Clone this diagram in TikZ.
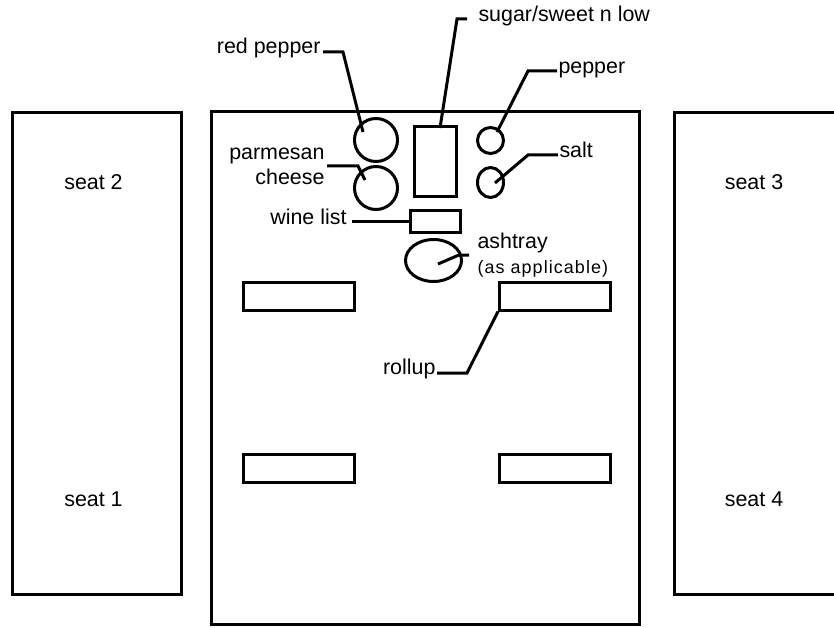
\documentclass[tikz,border=0pt]{standalone}
\usepackage{fontspec}
\setmainfont{Liberation Sans}
\newfontfamily\spacedsans[LetterSpace=6]{Liberation Sans}
\usetikzlibrary{shapes.geometric}

\begin{document}
\begin{tikzpicture}[
  x=1bp,
  y=-1bp,
  line width=3bp,
  every node/.style={font=\fontsize{21.5}{25}\selectfont},
  seatbox/.style={draw, inner sep=0pt, minimum width=169bp, minimum height=482bp},
  tablebox/.style={draw, inner sep=0pt, minimum width=428bp, minimum height=513bp},
  rollbox/.style={draw, inner sep=0pt, minimum width=111bp, minimum height=28bp},
  itembox/.style={draw, inner sep=0pt},
  itemround/.style={draw, circle, inner sep=0pt},
  itemoval/.style={draw, ellipse, inner sep=0pt},
  lbl/.style={inner sep=0pt},
  leader/.style={line width=3bp},
]
\useasboundingbox (0,0) rectangle (834,628);
\clip (0,0) rectangle (834,628);

\node[seatbox] (SL) at (97,353.5) {};
\node[seatbox, minimum width=200bp] (SR) at (774.5,353.5) {};
\node[tablebox] (T) at (425.5,368) {};
\node (S2) at (93.5,182) {seat 2};
\node (S1) at (93.5,499) {seat 1};
\node (S3) at (754,182) {seat 3};
\node (S4) at (754,499) {seat 4};

\node[itemround, minimum size=43bp] (redpep) at (376,140) {};
\node[itemround, minimum size=43bp] (parm) at (376,188) {};
\node[itembox, minimum width=42bp, minimum height=70bp] (sugar) at (435.5,161.5) {};
\node[itemround, minimum size=26bp] (pep) at (490.5,140.5) {};
\node[itemoval, minimum width=26bp, minimum height=30bp] (salt) at (490.5,182.5) {};
\node[itembox, minimum width=50bp, minimum height=22bp] (winelist) at (435.5,221.5) {};
\node[itemoval, minimum width=56bp, minimum height=42bp] (ashtray) at (433.5,260.5) {};

\node[rollbox] (rolltl) at (298.5,296) {};
\node[rollbox] (rolltr) at (555,296) {};
\node[rollbox] (rollbl) at (298.5,468) {};
\node[rollbox] (rollbr) at (555,468) {};

\coordinate (sugartip) at (440,128);
\coordinate (redpeptip) at (363,132);
\coordinate (parmtip) at (365,180);
\coordinate (peptip) at (497,132);
\coordinate (salttip) at (495,183);
\coordinate (ashtip) at (438,264);

\node[lbl, anchor=mid west] (sugarlbl) at (477,19) {sugar/sweet n low};
\node[lbl, anchor=base east] (redpeplbl) at (322,54) {red pepper};
\node[lbl, anchor=mid west] (peplbl) at (557,71) {pepper};
\node[lbl, anchor=east, align=right] (parmlbl) at (326,166) {parmesan\\cheese};
\node[lbl, anchor=mid west] (saltlbl) at (558,155) {salt};
\node[lbl, anchor=mid east] (winelbl) at (348,221.5) {wine list};
\node[lbl, anchor=west, align=left, inner xsep=7bp] (ashlbl) at (469,255) {ashtray\\{\spacedsans\fontsize{18}{20}\selectfont (as applicable)}};
\node[lbl, anchor=base east] (rolllbl) at (437,374) {rollup};

\draw[leader] ([xshift=-10bp]sugarlbl.mid west) -- ++(-10,0) -- (sugartip);
\draw[leader] ([xshift=1bp,yshift=2bp]redpeplbl.base east) -- ++(20,0) -- (redpeptip);
\draw[leader] (peplbl.mid west) -- ++(-29,0) -- (peptip);
\draw[leader] ([xshift=1bp]parmlbl.east) -- ++(31,0) -- (parmtip);
\draw[leader] (saltlbl.mid west) -- ++(-30,0) -- (salttip);
\draw[leader] ([xshift=4bp]winelbl.mid east) -- (winelist.west);
\draw[leader] (ashlbl.west) -- ++(-10,0) -- (ashtip);
\draw[leader] ([yshift=1bp]rolllbl.base east) -- ++(30,0) -- (rolltr.south west);
\end{tikzpicture}
\end{document}
